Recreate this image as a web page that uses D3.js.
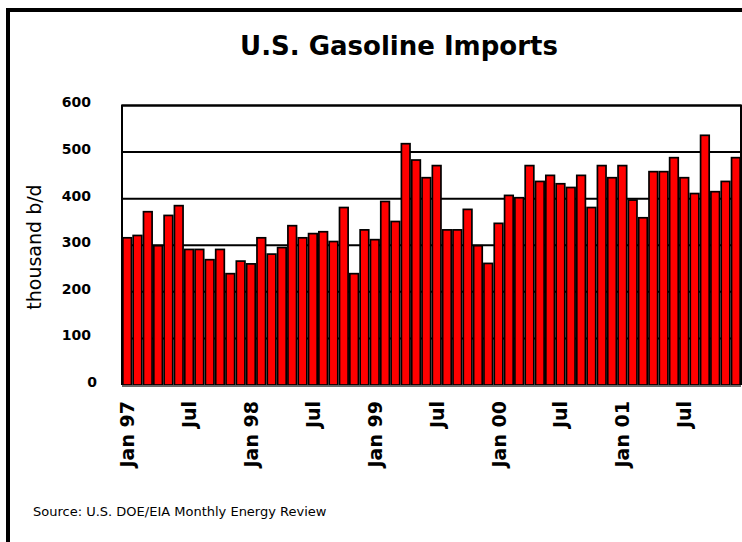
<!DOCTYPE html>
<html>
<head>
<meta charset="utf-8">
<script src="https://cdn.jsdelivr.net/npm/d3@7"></script>
<style>
  html, body { margin: 0; padding: 0; background: #fff; }
  svg { display: block; }
</style>
</head>
<body>
<svg id="chart" width="742" height="542"></svg>
<script>
// ---- data ----
const years = ["1997", "1998", "1999", "2000", "2001"];
const months = ["01","02","03","04","05","06","07","08","09","10","11","12"];
const categories = years.flatMap(y => months.map(m => y + "-" + m));
const values = [
  316, 321, 372, 299, 364, 385, 291, 291, 269, 291, 239, 266,
  260, 316, 281, 295, 342, 316, 325, 329, 308, 381, 239, 333,
  312, 394, 351, 518, 483, 445, 471, 333, 333, 377, 299, 261,
  347, 407, 402, 471, 437, 450, 432, 424, 450, 381, 471, 445,
  471, 397, 359, 458, 458, 488, 445, 411, 536, 415, 437, 488
];
const tickCategories = ["1997-01","1997-07","1998-01","1998-07","1999-01","1999-07","2000-01","2000-07","2001-01","2001-07"];
const tickLabels = ["Jan 97","Jul","Jan 98","Jul","Jan 99","Jul","Jan 00","Jul","Jan 01","Jul"];
const yTicks = [0, 100, 200, 300, 400, 500, 600];
const title = "U.S. Gasoline Imports";
const yTitle = "thousand b/d";
const source = "Source: U.S. DOE/EIA Monthly Energy Review";

// ---- layout ----
const svg = d3.select("#chart");
const plot = { left: 122, right: 741, top: 105.5, bottom: 385 };

const x = d3.scaleBand().domain(categories).range([plot.left, plot.right]).padding(0);
const y = d3.scaleLinear().domain([0, 600]).range([plot.bottom, plot.top]);

// outer frame
svg.append("rect")
  .attr("x", 8).attr("y", 10).attr("width", 800).attr("height", 600)
  .attr("fill", "none").attr("stroke", "#000").attr("stroke-width", 4);

// title
svg.append("text")
  .attr("x", 399).attr("y", 55)
  .attr("text-anchor", "middle")
  .attr("font-family", "DejaVu Sans, Verdana, sans-serif")
  .attr("font-weight", "bold")
  .attr("font-size", 26)
  .text(title);

// gridlines
svg.append("g").selectAll("line")
  .data(yTicks.filter(d => d > 0))
  .join("line")
  .attr("x1", plot.left).attr("x2", plot.right)
  .attr("y1", d => y(d)).attr("y2", d => y(d))
  .attr("stroke", "#000").attr("stroke-width", 2);

// bars
const sw = 1.7;
svg.append("g").selectAll("rect")
  .data(categories.map((c, i) => ({ c, v: values[i] })))
  .join("rect")
  .attr("x", d => x(d.c) + sw / 2)
  .attr("width", x.bandwidth() - sw)
  .attr("y", d => y(d.v))
  .attr("height", d => y(0) - y(d.v))
  .attr("fill", "#ff0000")
  .attr("stroke", "#000")
  .attr("stroke-width", sw);

// plot frame (left/top/right)
svg.append("path")
  .attr("d", `M${plot.left},${plot.bottom} V${plot.top} H${plot.right} V${plot.bottom}`)
  .attr("fill", "none").attr("stroke", "#000").attr("stroke-width", 2);

// x axis baseline
svg.append("line")
  .attr("x1", plot.left).attr("x2", plot.right)
  .attr("y1", plot.bottom + 1).attr("y2", plot.bottom + 1)
  .attr("stroke", "#666").attr("stroke-width", 2);

// y axis labels
const yAxis = d3.axisLeft(y).tickValues(yTicks).tickSize(0).tickPadding(0);
const yg = svg.append("g").attr("transform", "translate(91,-3)").call(yAxis);
yg.select(".domain").remove();
yg.selectAll("text")
  .attr("font-family", "DejaVu Sans, Verdana, sans-serif")
  .attr("font-weight", "bold")
  .attr("font-size", 14)
  .attr("fill", "#000");
yg.selectAll(".tick").filter(d => d === 0).select("text").attr("x", 6);

// y title
svg.append("text")
  .attr("transform", "translate(41,247) rotate(-90)")
  .attr("text-anchor", "middle")
  .attr("font-family", "DejaVu Sans, Verdana, sans-serif")
  .attr("font-size", 19)
  .text(yTitle);

// x axis labels
const labelMap = new Map(tickCategories.map((c, i) => [c, tickLabels[i]]));
const xAxis = d3.axisBottom(x).tickValues(tickCategories).tickFormat(c => labelMap.get(c)).tickSize(0).tickPadding(0);
const xg = svg.append("g").attr("transform", `translate(0,${plot.bottom})`).call(xAxis);
xg.select(".domain").remove();
xg.selectAll("text")
  .attr("font-family", "DejaVu Sans, Verdana, sans-serif")
  .attr("font-weight", "bold")
  .attr("font-size", 19)
  .attr("fill", "#000")
  .attr("text-anchor", "end")
  .attr("dy", null)
  .attr("y", 0)
  .attr("transform", "translate(7,16) rotate(-90)");

// source
svg.append("text")
  .attr("x", 33).attr("y", 516)
  .attr("font-family", "DejaVu Sans, Verdana, sans-serif")
  .attr("font-size", 13)
  .text(source);
</script>
</body>
</html>
